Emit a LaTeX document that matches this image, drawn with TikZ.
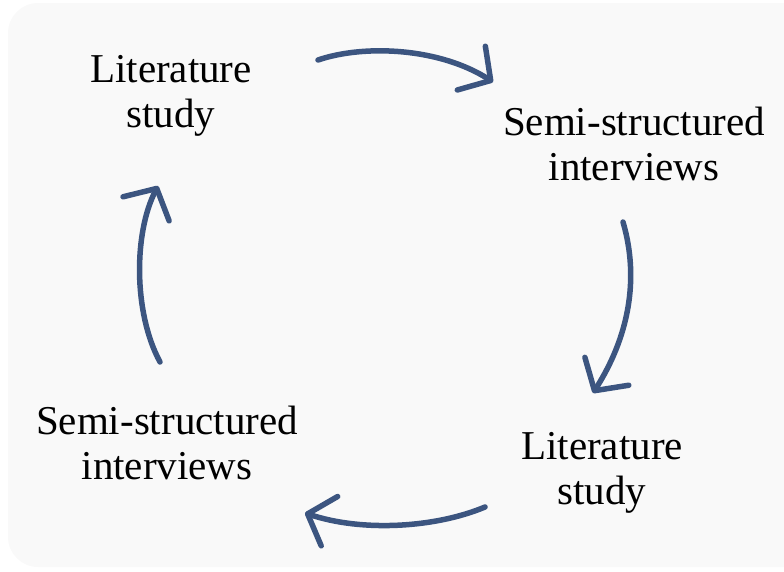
\documentclass[tikz,border=0pt]{standalone}
\usepackage{fontspec}
\setmainfont{Liberation Serif}
\usetikzlibrary{arrows.meta}
\definecolor{panelgray}{HTML}{F9F9F9}
\definecolor{cyclearrow}{RGB}{60,85,128}
\begin{document}
\begin{tikzpicture}[x=1pt,y=-1pt,
  stage/.style={align=center,font=\fontsize{41}{45}\selectfont,inner sep=0pt},
  cycle/.style={draw=cyclearrow,line width=5.5pt,line cap=round,
    -{Straight Barb[length=23pt,width=52pt,line width=5.5pt,round]}}]
  \useasboundingbox (0,0) rectangle (784,571);
  \begin{scope}
    \clip (0,0) rectangle (784,571);
    \fill[panelgray,rounded corners=30pt] (8,3) rectangle (820,567);
  \end{scope}

  % the four stages
  \node[stage] (lit1) at (171,96) {Literature\\study};
  \node[stage] (semi1) at (634,144) {Semi-structured\\interviews};
  \node[stage] (lit2) at (602,473) {Literature\\study};
  \node[stage] (semi2) at (167,443) {Semi-structured\\interviews};

  % arrow ends
  \coordinate (a1s) at (318,60);  \coordinate (a1e) at (493,82);
  \coordinate (a2s) at (623,222); \coordinate (a2e) at (593,393);
  \coordinate (a3s) at (485,507); \coordinate (a3e) at (305,513);
  \coordinate (a4s) at (160,362); \coordinate (a4e) at (158,186);

  \draw[cycle] (a1s) .. controls (365,44) and (440,48) .. (a1e);
  \draw[cycle] (a2s) .. controls (640,280) and (628,338) .. (a2e);
  \draw[cycle] (a3s) .. controls (435,528) and (362,532) .. (a3e);
  \draw[cycle] (a4s) .. controls (133,312) and (134,232) .. (a4e);
\end{tikzpicture}
\end{document}
